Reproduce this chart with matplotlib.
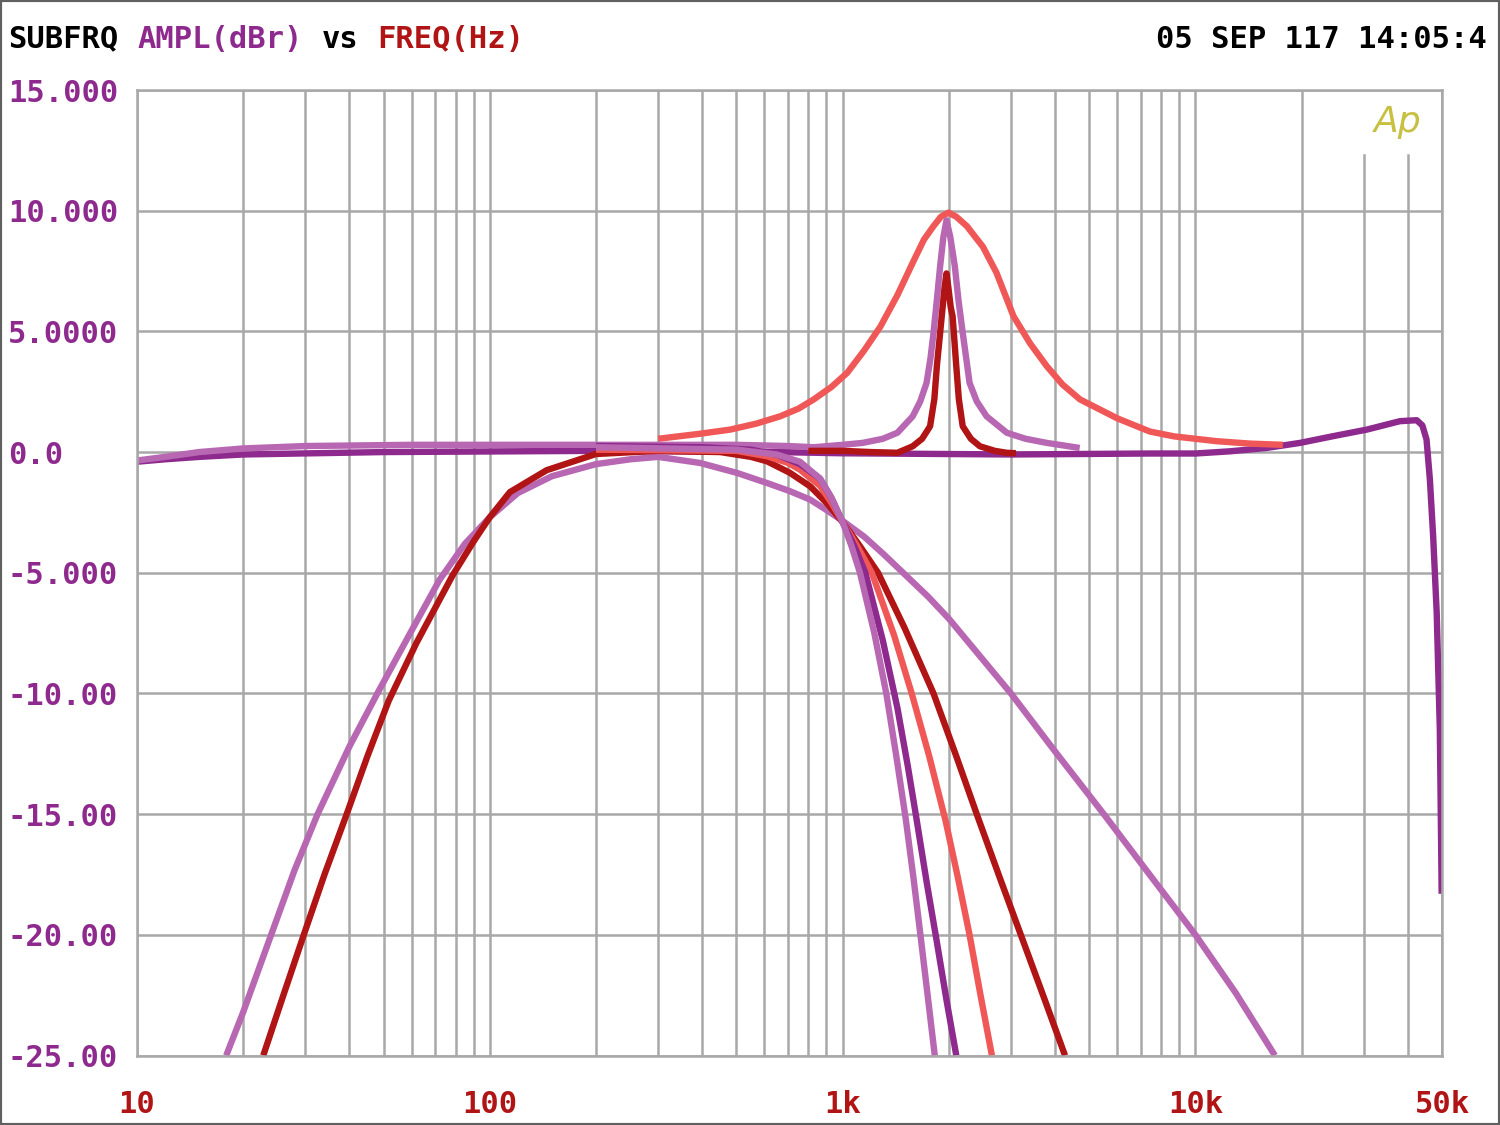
import matplotlib.pyplot as plt
from matplotlib.ticker import NullLocator
from matplotlib.patches import Rectangle

# flat reference sweep (dark purple), runs the whole range
flat_f = [10, 12, 15, 20, 50, 200, 650, 1000, 3000, 7430, 10000, 12500, 15900, 19800,
          24600, 30600, 38000, 42400, 44000, 45200, 46200, 47200, 48300, 49300, 49900]
flat_db = [-0.4, -0.3, -0.2, -0.1, 0.0, 0.05, 0.0, -0.05, -0.1, -0.06, -0.06, 0.03, 0.17, 0.38,
           0.66, 0.93, 1.28, 1.32, 1.1, 0.52, -1.14, -3.5, -6.65, -11.5, -18.3]

# peaking EQ at 2 kHz, three Q settings
peak_wide_f = [300, 390, 480, 570, 665, 750, 828, 930, 1030, 1150, 1280, 1430, 1580, 1700,
               1810, 1900, 1995, 2100, 2250, 2500, 2730, 3050, 3400, 3790, 4200, 4710, 5300,
               6000, 7430, 8700, 10000, 11500, 14300, 17700]
peak_wide_db = [0.55, 0.75, 0.93, 1.18, 1.48, 1.8, 2.18, 2.7, 3.28, 4.2, 5.2, 6.5, 7.84, 8.8,
                9.36, 9.75, 9.92, 9.75, 9.36, 8.5, 7.43, 5.63, 4.5, 3.56, 2.8, 2.18, 1.8,
                1.4, 0.85, 0.65, 0.55, 0.45, 0.35, 0.3]

peak_mid_f = [10, 12, 15, 20, 30, 60, 200, 500, 700, 828, 1000, 1140, 1300, 1430, 1580, 1660,
              1730, 1775, 1810, 1850, 1890, 1930, 1970, 2020, 2080, 2130, 2190, 2240, 2290,
              2400, 2560, 2920, 3300, 3790, 4700]
peak_mid_db = [-0.35, -0.2, 0.0, 0.15, 0.25, 0.3, 0.3, 0.3, 0.25, 0.2, 0.3, 0.38, 0.55, 0.8, 1.48,
               2.1, 2.87, 3.9, 4.94, 6.3, 7.7, 8.9, 9.6, 8.9, 7.7, 6.3, 4.94, 3.9, 2.87,
               2.1, 1.48, 0.8, 0.55, 0.38, 0.17]

peak_narrow_f = [800, 1000, 1200, 1430, 1580, 1680, 1770, 1820, 1850, 1880, 1910, 1945, 1970,
                 1995, 2025, 2050, 2075, 2100, 2135, 2190, 2310, 2450, 2700, 2920, 3100]
peak_narrow_db = [0.05, 0.05, 0.0, -0.03, 0.24, 0.55, 1.07, 2.2, 3.56, 4.6, 5.63, 6.8, 7.4,
                  6.8, 6.0, 5.63, 4.6, 3.56, 2.2, 1.07, 0.55, 0.24, 0.05, -0.03, -0.05]

# band-pass / low-pass filter responses
bp1_f = [17.9, 20, 24, 28, 32.5, 40, 48, 60, 72, 85, 100, 120, 150, 200, 250, 300, 394,
         501, 610, 709, 809, 900, 1000, 1150, 1300, 1460, 1750, 2000, 3000, 4000, 5500, 7500,
         10000, 13000, 16800]
bp1_db = [-25, -23.2, -20.0, -17.3, -15.0, -12.2, -10.0, -7.4, -5.3, -3.8, -2.7, -1.7, -1.0,
          -0.5, -0.3, -0.2, -0.45, -0.86, -1.28, -1.62, -1.97, -2.4, -2.85, -3.5, -4.2, -4.9,
          -6.0, -6.9, -10.0, -12.4, -15.0, -17.6, -20.0, -22.4, -25]

bp2_f = [22.8, 26, 29.7, 34, 39.3, 45, 51.7, 62, 78.5, 90, 100, 114, 145, 200, 300, 450,
         550, 610, 709, 809, 900, 1000, 1120, 1260, 1500, 1810, 2100, 2400, 2800, 3200,
         3700, 4270]
bp2_db = [-25, -22.5, -20.0, -17.5, -15.0, -12.6, -10.3, -7.9, -5.1, -3.7, -2.7, -1.66, -0.75,
          -0.08, 0.05, 0.0, -0.2, -0.38, -0.86, -1.42, -2.1, -2.9, -3.9, -5.0, -7.3, -10.0,
          -12.6, -15.0, -17.7, -20.0, -22.5, -25]

lp3_f = [200, 500, 610, 700, 757, 863, 930, 1000, 1100, 1210, 1400, 1570, 1760, 1960, 2120,
         2290, 2460, 2650]
lp3_db = [0.1, 0.05, -0.17, -0.45, -0.73, -1.4, -2.1, -2.9, -3.9, -5.0, -7.6, -10.0, -12.6,
          -15.3, -17.6, -20.0, -22.5, -25]

lp4_f = [200, 400, 550, 650, 757, 863, 930, 1000, 1080, 1160, 1300, 1430, 1530, 1620, 1730,
         1850, 1970, 2100]
lp4_db = [0.25, 0.2, 0.1, -0.1, -0.5, -1.1, -1.9, -2.9, -3.9, -5.0, -7.8, -10.6, -13.0, -15.2,
          -17.8, -20.3, -22.7, -25]

lp5_f = [200, 500, 650, 757, 863, 930, 1000, 1060, 1120, 1230, 1330, 1420, 1510, 1590, 1665,
         1745, 1825]
lp5_db = [0.2, 0.1, -0.1, -0.4, -1.1, -1.9, -2.9, -3.9, -5.0, -7.5, -10.0, -12.6, -15.2, -17.7,
          -20.1, -22.6, -25]

y_ticks = [15, 10, 5, 0, -5, -10, -15, -20, -25]
y_labels = ["15.000", "10.000", "5.0000", "0.0", "-5.000", "-10.00", "-15.00", "-20.00", "-25.00"]
x_ticks = [10, 100, 1000, 10000, 50000]
x_labels = ["10", "100", "1k", "10k", "50k"]
grid_f = [m * d for d in (10, 100, 1000, 10000) for m in range(1, 10)] + [50000]

DPURPLE = "#8E2A8E"
LPURPLE = "#B868B2"
SALMON = "#F05858"
DRED = "#B01414"
GRID = "#A8A8A8"

plt.rcParams['font.family'] = ['DejaVu Sans Mono']

fig = plt.figure(figsize=(15, 11.25), dpi=100)
ax = fig.add_axes([137 / 1500, 1 - 1055.5 / 1125, 1305 / 1500, 965.5 / 1125])
ax.set_xscale('log')
ax.set_xlim(10, 50000)
ax.set_ylim(-25, 15)

for y in y_ticks:
    ax.axhline(y, color=GRID, lw=1.8, zorder=0)
for f in grid_f:
    top = 0.933 if f in (30000, 40000) else 1.0
    ax.axvline(f, ymax=top, color=GRID, lw=1.8, zorder=0)

lw = 4.6
style = dict(lw=lw, solid_joinstyle='round', solid_capstyle='butt')
ax.plot(flat_f, flat_db, color=DPURPLE, **style)
ax.plot(peak_wide_f, peak_wide_db, color=SALMON, **style)
ax.plot(peak_mid_f, peak_mid_db, color=LPURPLE, **style)
ax.plot(peak_narrow_f, peak_narrow_db, color=DRED, **style)
ax.plot(bp1_f, bp1_db, color=LPURPLE, **style)
ax.plot(bp2_f, bp2_db, color=DRED, **style)
ax.plot(lp3_f, lp3_db, color=SALMON, **style)
ax.plot(lp4_f, lp4_db, color=DPURPLE, **style)
ax.plot(lp5_f, lp5_db, color=LPURPLE, **style)

for s in ax.spines.values():
    s.set_color(GRID)
    s.set_linewidth(1.8)

ax.set_yticks(y_ticks)
ax.set_yticklabels(y_labels, ha='left', color=DPURPLE, fontsize=22, fontweight='bold')
ax.set_xticks(x_ticks)
ax.set_xticklabels(x_labels, color=DRED, fontsize=22, fontweight='bold')
ax.xaxis.set_minor_locator(NullLocator())
ax.tick_params(axis='y', length=0, pad=93)
ax.tick_params(axis='x', length=0, pad=25)

# header line
title_parts = [("SUBFRQ", "black", 0), ("AMPL(dBr)", DPURPLE, 7), ("vs", "black", 17), ("FREQ(Hz)", DRED, 20)]
for txt, col, pos in title_parts:
    fig.text((8 + pos * 18.45) / 1500, 1 - 39 / 1125, txt, color=col, fontsize=22,
             fontweight='bold', va='center', ha='left')
fig.text(1487 / 1500, 1 - 39 / 1125, "05 SEP 117 14:05:4", color="black", fontsize=22,
         fontweight='bold', va='center', ha='right')

ax.text(1398 / 1500, 1 - 122 / 1125, "Ap", transform=fig.transFigure, color="#C8C040",
        fontsize=26, family='DejaVu Sans', fontstyle='italic', ha='center', va='center')

fig.patches.append(Rectangle((0, 0), 1, 1, transform=fig.transFigure, fill=False,
                             edgecolor="#606060", lw=3))

plt.savefig("out.png", dpi=100)
